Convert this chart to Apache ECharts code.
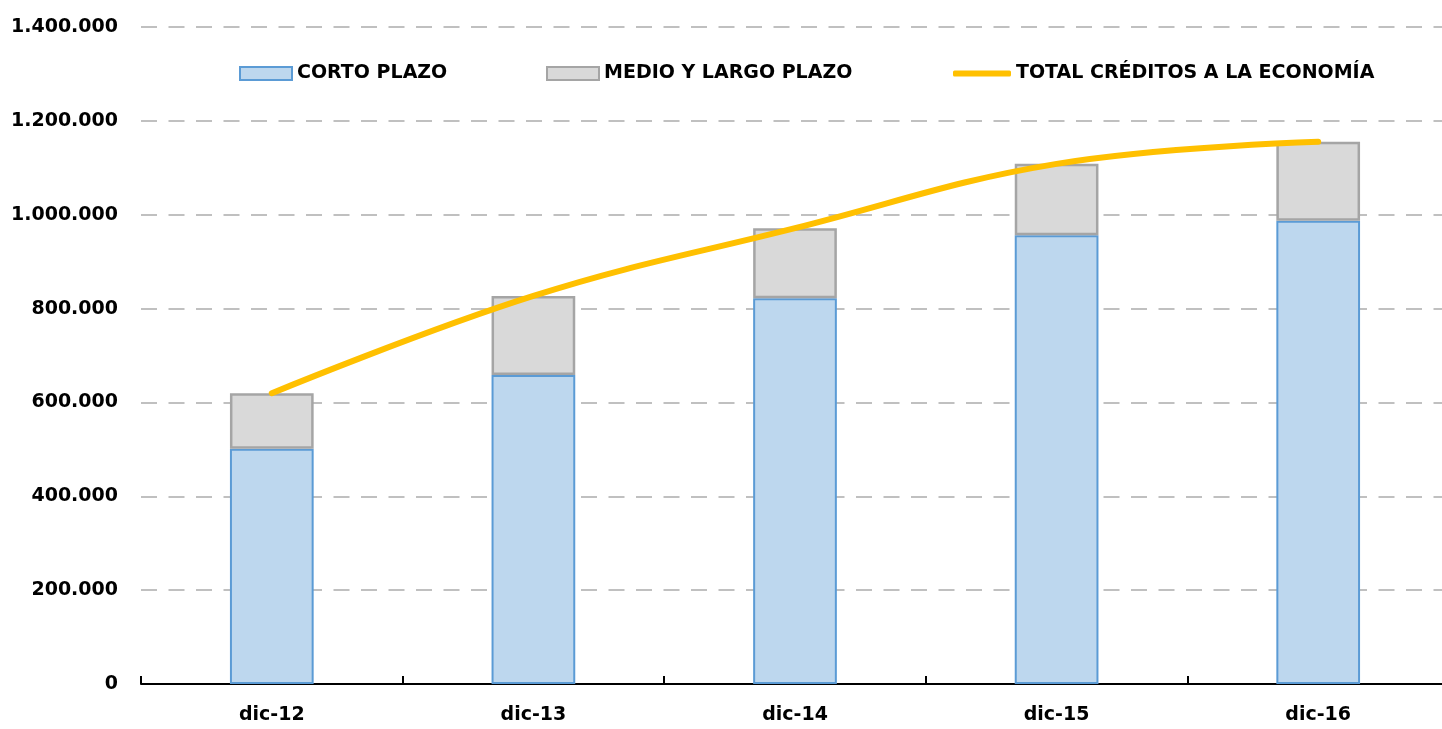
<!DOCTYPE html>
<html>
<head>
<meta charset="utf-8">
<script src="https://cdn.jsdelivr.net/npm/echarts@6/dist/echarts.min.js"></script>
<style>
  html, body { margin: 0; padding: 0; background: #ffffff; overflow: hidden; }
  /* the plot area runs a few pixels past the right edge of the window */
  #chart { width: 1452px; height: 729px; }
</style>
</head>
<body>
<div id="chart"></div>
<script>
// Créditos a la economía, saldos a diciembre
const categories = ['dic-12', 'dic-13', 'dic-14', 'dic-15', 'dic-16'];
const cortoPlazo = [501500, 658600, 822200, 956400, 986900];
const medioLargoPlazo = [118100, 168400, 149100, 152000, 168400];
const totalCreditos = [619600, 827000, 971300, 1108400, 1155300];
const yTicks = { min: 0, max: 1400000, interval: 200000 };

const FONT = 'DejaVu Sans';
const textStyle = { fontFamily: FONT, fontWeight: 'bold', fontSize: 19, color: '#000000' };

function fmt(v) {
  return String(v).replace(/\B(?=(\d{3})+(?!\d))/g, '.');
}

const chart = echarts.init(document.getElementById('chart'), null, { renderer: 'canvas' });

chart.setOption({
  animation: false,
  backgroundColor: '#ffffff',
  textStyle: { fontFamily: FONT },
  grid: { left: 141, top: 27, width: 1308, bottom: 45, containLabel: false },
  legend: [
    {
      data: [{ name: 'CORTO PLAZO', icon: 'rect' }],
      left: 234, top: 59,
      itemWidth: 52, itemHeight: 13, itemGap: 0,
      textStyle: textStyle
    },
    {
      data: [{ name: 'MEDIO Y LARGO PLAZO', icon: 'rect' }],
      left: 541, top: 59,
      itemWidth: 52, itemHeight: 13, itemGap: 0,
      textStyle: textStyle
    },
    {
      data: [{ name: 'TOTAL CRÉDITOS A LA ECONOMÍA', icon: 'roundRect' }],
      left: 948, top: 59,
      itemWidth: 58, itemHeight: 6, itemGap: 0,
      textStyle: textStyle
    }
  ],
  xAxis: {
    type: 'category',
    data: categories,
    boundaryGap: true,
    axisLine: { show: true, lineStyle: { color: '#000000', width: 2 } },
    axisTick: { show: true, inside: true, length: 8, lineStyle: { color: '#000000', width: 2 } },
    axisLabel: { ...textStyle, margin: 22 },
    splitLine: { show: false }
  },
  yAxis: {
    type: 'value',
    min: yTicks.min, max: yTicks.max, interval: yTicks.interval,
    axisLine: { show: false },
    axisTick: { show: false },
    axisLabel: { ...textStyle, margin: 23, formatter: fmt },
    splitLine: {
      show: true,
      lineStyle: { color: '#c0c0c0', width: 2, type: [16, 11.5] }
    }
  },
  series: [
    {
      name: 'CORTO PLAZO',
      type: 'bar',
      stack: 'creditos',
      barWidth: '32%',
      data: cortoPlazo,
      itemStyle: { color: '#bdd7ee', borderColor: '#5b9bd5', borderWidth: 2 }
    },
    {
      name: 'MEDIO Y LARGO PLAZO',
      type: 'bar',
      stack: 'creditos',
      barWidth: '32%',
      data: medioLargoPlazo,
      itemStyle: { color: '#d9d9d9', borderColor: '#a5a5a5', borderWidth: 2.5 }
    },
    {
      name: 'TOTAL CRÉDITOS A LA ECONOMÍA',
      type: 'line',
      data: totalCreditos,
      smooth: 0.4,
      symbol: 'none',
      showSymbol: false,
      z: 5,
      itemStyle: { color: '#ffc000' },
      lineStyle: { color: '#ffc000', width: 6, cap: 'round', join: 'round' }
    }
  ]
});
</script>
</body>
</html>
